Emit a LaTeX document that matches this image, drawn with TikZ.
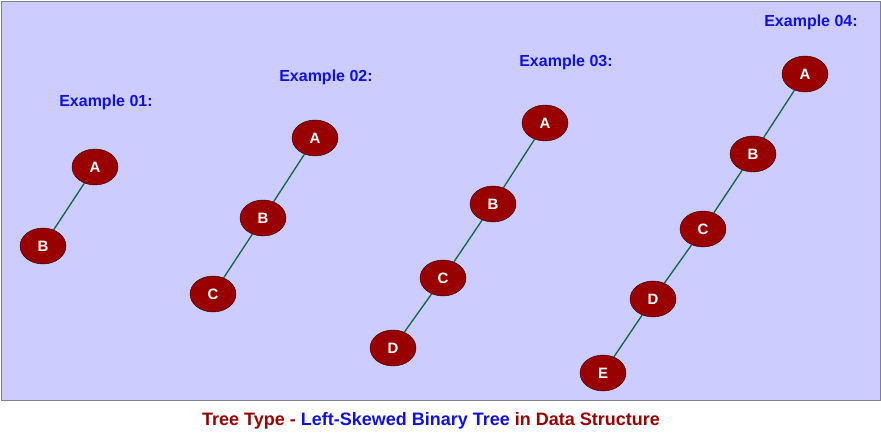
\documentclass[tikz,border=0pt]{standalone}
\usepackage{fontspec}
\setmainfont{Liberation Sans}
\usetikzlibrary{shapes.geometric}
\definecolor{treered}{HTML}{990000}
\definecolor{treeblue}{HTML}{1010E0}
\definecolor{treegreen}{HTML}{106640}
\definecolor{treebg}{HTML}{CCCCFF}
\tikzset{
  leaf/.style={ellipse, draw=black!70!treered, fill=treered, text=white,
    minimum width=46pt, minimum height=36pt, inner sep=0pt,
    font=\fontsize{15}{15}\selectfont\bfseries},
  title/.style={text=treeblue, font=\fontsize{16}{16}\selectfont\bfseries},
  branch/.style={treegreen, line width=1.3pt}
}
\begin{document}
\begin{tikzpicture}[x=1pt, y=-1pt]
  \useasboundingbox (0,0) rectangle (881,433);
  \draw[gray, fill=treebg] (1,1) rectangle (880,400);

  \node[title] (t1) at (106,102) {Example 01:};
  \node[leaf] (a1) at (95,167) {A};
  \node[leaf] (b1) at (43,246) {B};
  \draw[branch] (a1) -- (b1);

  \node[title] (t2) at (326,77) {Example 02:};
  \node[leaf] (a2) at (315,138) {A};
  \node[leaf] (b2) at (263,218) {B};
  \node[leaf] (c2) at (213,294) {C};
  \draw[branch] (a2) -- (b2) (b2) -- (c2);

  \node[title] (t3) at (566,62) {Example 03:};
  \node[leaf] (a3) at (545,123) {A};
  \node[leaf] (b3) at (493,204) {B};
  \node[leaf] (c3) at (443,278) {C};
  \node[leaf] (d3) at (393,348) {D};
  \draw[branch] (a3) -- (b3) (b3) -- (c3) (c3) -- (d3);

  \node[title] (t4) at (811,22) {Example 04:};
  \node[leaf] (a4) at (805,74) {A};
  \node[leaf] (b4) at (753,154) {B};
  \node[leaf] (c4) at (703,229) {C};
  \node[leaf] (d4) at (653,299) {D};
  \node[leaf] (e4) at (603,373) {E};
  \draw[branch] (a4) -- (b4) (b4) -- (c4) (c4) -- (d4) (d4) -- (e4);

  \node[font=\fontsize{18}{18}\selectfont\bfseries] (cap) at (431,421)
    {\textcolor{treered}{Tree Type -} \textcolor{treeblue}{Left-Skewed Binary Tree} \textcolor{treered}{in Data Structure}};
\end{tikzpicture}
\end{document}
